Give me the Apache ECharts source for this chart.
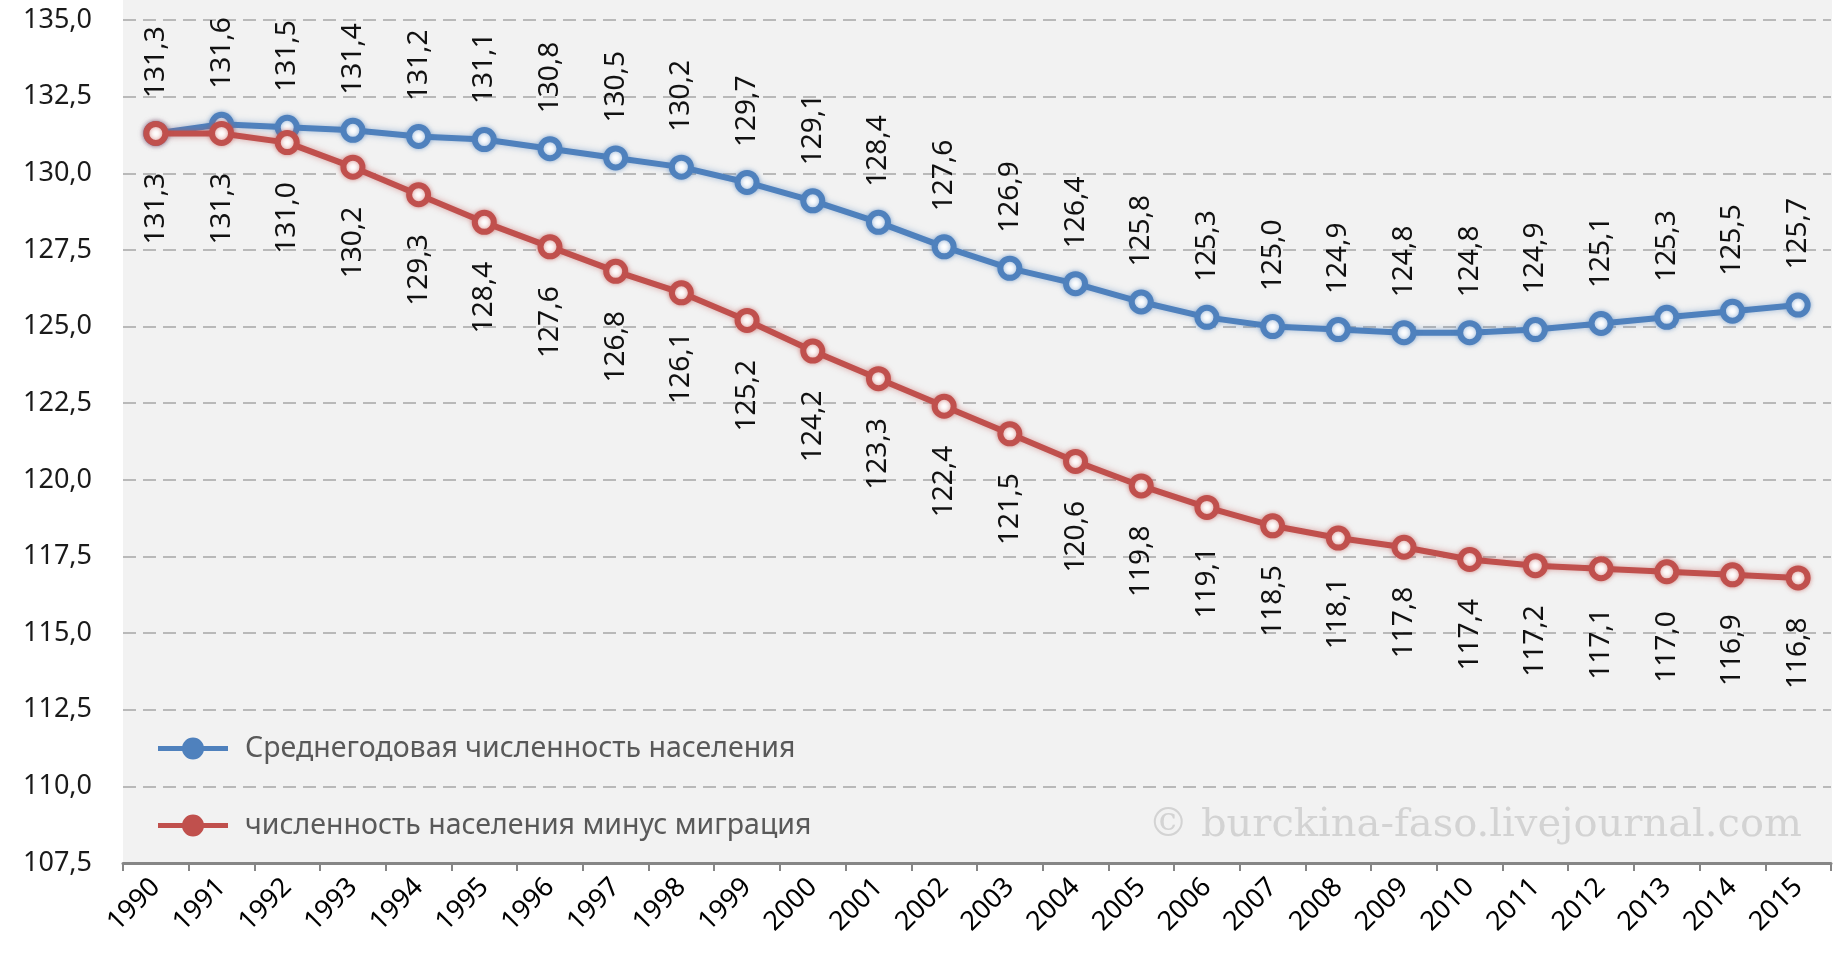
<!DOCTYPE html>
<html>
<head>
<meta charset="utf-8">
<script src="https://cdn.jsdelivr.net/npm/echarts@6/dist/echarts.min.js"></script>
<style>
html,body{margin:0;padding:0;background:#fff;}
#chart{width:1837px;height:958px;}
</style>
</head>
<body>
<div id="chart"></div>
<script>
const years = ['1990','1991','1992','1993','1994','1995','1996','1997','1998','1999','2000','2001','2002','2003','2004','2005','2006','2007','2008','2009','2010','2011','2012','2013','2014','2015'];
const avgPopulation = [131.3,131.6,131.5,131.4,131.2,131.1,130.8,130.5,130.2,129.7,129.1,128.4,127.6,126.9,126.4,125.8,125.3,125.0,124.9,124.8,124.8,124.9,125.1,125.3,125.5,125.7];
const minusMigration = [131.3,131.3,131.0,130.2,129.3,128.4,127.6,126.8,126.1,125.2,124.2,123.3,122.4,121.5,120.6,119.8,119.1,118.5,118.1,117.8,117.4,117.2,117.1,117.0,116.9,116.8];
const seriesNames = ['Среднегодовая численность населения','численность населения минус миграция'];
const watermark = '© burckina-faso.livejournal.com';

const FONT = '"Noto Sans", "Open Sans", sans-serif';
const fmt = v => v.toFixed(1).replace('.', ',');
const BLUE = '#4f81bd', RED = '#c0504d';
const LEGEND_ICON = 'path://M0,9 h70 v5 h-70 Z M24,11.5 a11,11 0 1,1 22,0 a11,11 0 1,1 -22,0 Z';

const chart = echarts.init(document.getElementById('chart'), null, {renderer:'canvas'});
chart.setOption({
  animation:false,
  backgroundColor:'#ffffff',
  grid:{left:123, right:6, top:20, bottom:95, containLabel:false},
  graphic:[
    {type:'rect', z:-10, silent:true, shape:{x:123, y:0, width:1709, height:863}, style:{fill:'#f2f2f2'}},
    {type:'text', z:5, silent:true, right:35, top:806, style:{text:watermark, font:'40px "DejaVu Serif", serif', fill:'#d3d3d3'}}
  ],
  legend:{
    orient:'vertical', left:153, top:729, itemGap:48, itemWidth:70, itemHeight:23,
    icon:LEGEND_ICON,
    textStyle:{fontFamily:FONT, fontSize:28.5, color:'#595959', padding:[0,0,0,12]},
    data:[
      {name:seriesNames[0], itemStyle:{color:BLUE, borderWidth:0}},
      {name:seriesNames[1], itemStyle:{color:RED, borderWidth:0}}
    ]
  },
  xAxis:{
    type:'category', data:years, boundaryGap:true,
    axisLine:{show:true, lineStyle:{color:'#868686', width:3}},
    axisTick:{show:true, length:8, lineStyle:{color:'#868686', width:2}, alignWithLabel:false},
    axisLabel:{rotate:45, margin:20, fontFamily:FONT, fontSize:27, color:'#000'},
    splitLine:{show:false}
  },
  yAxis:{
    type:'value', min:107.5, max:135, interval:2.5,
    axisLine:{show:false}, axisTick:{show:false},
    axisLabel:{margin:31, fontFamily:FONT, fontSize:27, color:'#1a1a1a', formatter:fmt},
    splitLine:{show:true, lineStyle:{color:'#a6a6a6', width:1.5, type:[13,7]}}
  },
  series:[
    {
      name:seriesNames[0], type:'line', data:avgPopulation,
      symbol:'circle', symbolSize:19, showAllSymbol:true,
      lineStyle:{color:BLUE, width:6, shadowBlur:6, shadowColor:'rgba(79,129,189,0.5)'},
      itemStyle:{color:'#ffffff', borderColor:BLUE, borderWidth:6, shadowBlur:5, shadowColor:'rgba(79,129,189,0.6)'},
      label:{show:true, position:'top', distance:23, rotate:90, align:'left', verticalAlign:'middle',
        fontFamily:FONT, fontSize:28, color:'#111', formatter:p=>fmt(p.value)},
      z:3
    },
    {
      name:seriesNames[1], type:'line', data:minusMigration,
      symbol:'circle', symbolSize:19, showAllSymbol:true,
      lineStyle:{color:RED, width:6, shadowBlur:6, shadowColor:'rgba(192,80,77,0.5)'},
      itemStyle:{color:'#ffffff', borderColor:RED, borderWidth:6, shadowBlur:5, shadowColor:'rgba(192,80,77,0.6)'},
      label:{show:true, position:'bottom', distance:27, rotate:90, align:'right', verticalAlign:'middle',
        fontFamily:FONT, fontSize:28, color:'#111', formatter:p=>fmt(p.value)},
      z:4
    }
  ]
});
</script>
</body>
</html>
